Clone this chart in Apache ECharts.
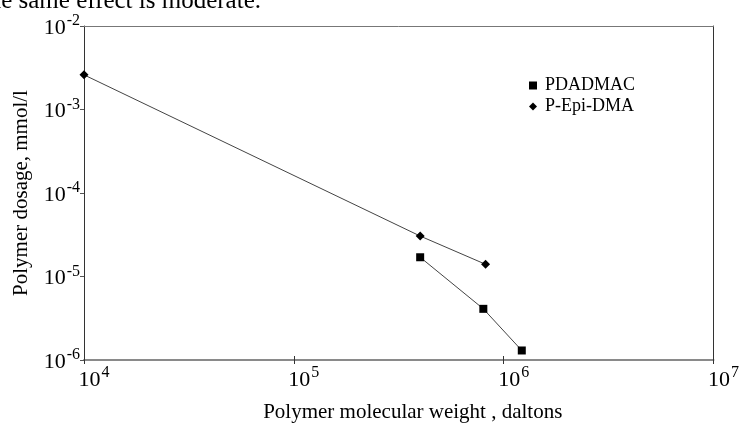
<!DOCTYPE html>
<html>
<head>
<meta charset="utf-8">
<script src="https://cdn.jsdelivr.net/npm/echarts@6/dist/echarts.min.js"></script>
<style>
  html, body { margin: 0; padding: 0; background: #fff; }
  #chart { width: 742px; height: 432px; }
</style>
</head>
<body>
<div id="chart"></div>
<script>
// Polymer dosage vs. molecular weight (log-log)
const seriesNames = ['PDADMAC', 'P-Epi-DMA'];
const pdadmacWeight = [4.0e5, 8.0e5, 1.22e6];
const pdadmacDosage = [1.7e-5, 4.1e-6, 1.3e-6];
const epiWeight = [1.0e4, 4.0e5, 8.2e5];
const epiDosage = [2.6e-3, 3.05e-5, 1.4e-5];
const xExponents = [4, 5, 6, 7];
const yExponents = [-6, -5, -4, -3, -2];

const serif = '"Liberation Serif", "DejaVu Serif", serif';

function pairs(xs, ys) {
  return xs.map((x, i) => [x, ys[i]]);
}

function powerLabel(v) {
  const e = Math.round(Math.log10(v));
  return '{b|10}{s|' + e + '}';
}

const labelRich = {
  b: { fontSize: 22, fontFamily: serif, color: '#000', verticalAlign: 'bottom', lineHeight: 26 },
  s: { fontSize: 16, fontFamily: serif, color: '#000', verticalAlign: 'top', lineHeight: 15, padding: [0, 0, 0, 1] }
};

const chart = echarts.init(document.getElementById('chart'));

chart.setOption({
  animation: false,
  backgroundColor: '#fff',
  grid: { left: 84, right: 15, top: 26, bottom: 72 },
  graphic: [{
    type: 'text',
    right: 481,
    top: -11,
    style: {
      text: 'the same effect is moderate.',
      font: '25px ' + serif,
      fill: '#000'
    }
  }],
  legend: {
    orient: 'vertical',
    left: 524,
    top: 70,
    itemWidth: 8,
    itemHeight: 8,
    itemGap: 0,
    textStyle: { fontFamily: serif, fontSize: 18, color: '#000', lineHeight: 21, padding: [0, 0, 0, 3] },
    data: [
      { name: seriesNames[0], icon: 'rect' },
      { name: seriesNames[1], icon: 'diamond' }
    ]
  },
  xAxis: [{
    type: 'log',
    logBase: 10,
    min: Math.pow(10, xExponents[0]),
    max: Math.pow(10, xExponents[xExponents.length - 1]),
    name: 'Polymer molecular weight , daltons',
    nameLocation: 'middle',
    nameGap: 42,
    nameTextStyle: { fontFamily: serif, fontSize: 21, color: '#000', padding: [0, 0, 0, 28] },
    axisLine: { lineStyle: { color: '#8a8a8a', width: 2 } },
    axisTick: { show: true, inside: true, length: 4, lineStyle: { color: '#333' } },
    axisLabel: { formatter: powerLabel, rich: labelRich, margin: 5, padding: [0, 0, 0, 20] },
    splitLine: { show: false },
    minorTick: { show: false }
  }, {
    type: 'log',
    logBase: 10,
    position: 'bottom',
    min: Math.pow(10, xExponents[0]),
    max: Math.pow(10, xExponents[xExponents.length - 1]),
    axisLine: { show: false },
    axisTick: { show: true, inside: false, length: 4, lineStyle: { color: '#333' } },
    axisLabel: { show: false },
    splitLine: { show: false }
  }, {
    type: 'log',
    logBase: 10,
    position: 'top',
    min: Math.pow(10, xExponents[0]),
    max: Math.pow(10, xExponents[xExponents.length - 1]),
    axisLine: { show: true, lineStyle: { color: '#777', width: 1 } },
    axisTick: { show: false },
    axisLabel: { show: false },
    splitLine: { show: false }
  }],
  yAxis: [{
    type: 'log',
    logBase: 10,
    min: Math.pow(10, yExponents[0]),
    max: Math.pow(10, yExponents[yExponents.length - 1]),
    name: 'Polymer dosage, mmol/l',
    nameLocation: 'middle',
    nameGap: 52,
    nameTextStyle: { fontFamily: serif, fontSize: 21, color: '#000' },
    axisLine: { show: true, lineStyle: { color: '#333', width: 1 } },
    axisTick: { show: true, length: 4, lineStyle: { color: '#555' } },
    axisLabel: { formatter: powerLabel, rich: labelRich, margin: 4 },
    splitLine: { show: false },
    minorTick: { show: false }
  }, {
    type: 'log',
    logBase: 10,
    position: 'right',
    min: Math.pow(10, yExponents[0]),
    max: Math.pow(10, yExponents[yExponents.length - 1]),
    axisLine: { show: true, lineStyle: { color: '#333', width: 1 } },
    axisTick: { show: false },
    axisLabel: { show: false },
    splitLine: { show: false }
  }],
  series: [{
    name: seriesNames[0],
    type: 'line',
    data: pairs(pdadmacWeight, pdadmacDosage),
    symbol: 'rect',
    symbolSize: 8,
    clip: false,
    itemStyle: { color: '#000' },
    lineStyle: { color: '#444', width: 1 }
  }, {
    name: seriesNames[1],
    type: 'line',
    data: pairs(epiWeight, epiDosage),
    symbol: 'diamond',
    symbolSize: [9, 9],
    clip: false,
    itemStyle: { color: '#000' },
    lineStyle: { color: '#444', width: 1 }
  }]
});
</script>
</body>
</html>
